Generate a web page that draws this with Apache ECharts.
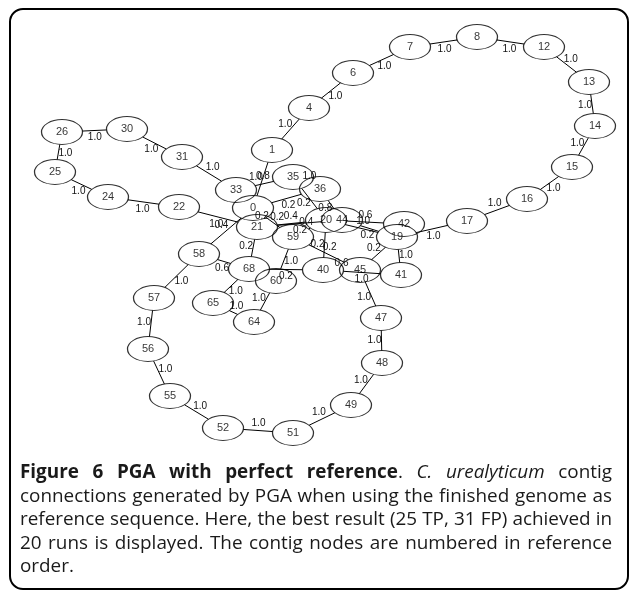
<!DOCTYPE html>
<html>
<head>
<meta charset="utf-8">
<script src="https://cdn.jsdelivr.net/npm/echarts@6/dist/echarts.min.js"></script>
<style>
  html, body { margin: 0; padding: 0; background: #fff; }
  #wrap { position: relative; width: 634px; height: 596px; overflow: hidden; }
  #frame { position: absolute; left: 9px; top: 8px; width: 620px; height: 582px; border: 2px solid #000; border-radius: 14px; box-sizing: border-box; }
  #chart { position: absolute; left: 0; top: 0; width: 634px; height: 596px; }
  #caption { position: absolute; left: 20px; top: 460px; width: 592px; font-family: "Open Sans", Lato, sans-serif; font-size: 16px; line-height: 23.5px; color: #1a1a1a; }
  #caption div { text-align: justify; text-align-last: justify; white-space: nowrap; }
  #caption div.last, #caption.measure div { text-align-last: left; }
</style>
</head>
<body>
<div id="wrap">
  <div id="frame"></div>
  <div id="chart"></div>
  <div id="caption" class="measure">
    <div><span><b>Figure 6 PGA with perfect reference</b>. <i>C. urealyticum</i> contig</span></div>
    <div><span>connections generated by PGA when using the finished genome as</span></div>
    <div><span>reference sequence. Here, the best result (25 TP, 31 FP) achieved in</span></div>
    <div><span>20 runs is displayed. The contig nodes are numbered in reference</span></div>
    <div class="last"><span>order.</span></div>
  </div>
</div>
<script>
// contig nodes (position, in pixels of the drawing)
const nodeIds = [0, 1, 4, 6, 7, 8, 12, 13, 14, 15, 16, 17, 19, 20, 21, 22, 24, 25, 26, 30,
  31, 33, 35, 36, 40, 41, 42, 44, 45, 47, 48, 49, 51, 52, 55, 56, 57, 58, 59, 60, 64, 65, 68]
const nodeX = [253, 272, 309, 353, 410, 477, 544, 589, 595, 572, 527, 467, 397, 326, 257, 179, 108, 55, 62, 127,
  182, 236, 293, 320, 323, 401, 404, 342, 360, 381, 382, 351, 293, 223, 170, 148, 154, 199, 293, 276, 254, 213, 249]
const nodeY = [208, 150, 108, 73, 47, 37, 47, 82, 126, 167, 199, 221, 237, 220, 227, 207, 197, 172, 132, 129,
  157, 190, 177, 189, 270, 275, 224, 220, 270, 318, 363, 405, 433, 428, 396, 349, 298, 254, 237, 281, 322, 303, 269]

// connections: from, to, weight
const edgeFrom = [25, 26, 30, 33, 25, 24, 22, 0, 4, 4, 6, 7, 8, 13, 13, 14, 16, 16, 19, 41,
  40, 45, 47, 48, 49, 51, 52, 55, 57, 57, 58, 65, 64, 60, 60, 68, 21, 1, 35, 36,
  0, 35, 36, 59, 21, 20, 20, 42, 44, 19, 19, 20, 45, 45, 21]
const edgeTo = [26, 30, 31, 31, 24, 22, 21, 58, 1, 6, 7, 8, 12, 12, 14, 15, 15, 17, 17, 19,
  41, 47, 48, 49, 51, 52, 55, 56, 56, 58, 68, 68, 65, 64, 59, 40, 68, 0, 33, 35,
  36, 20, 44, 0, 44, 21, 59, 20, 19, 20, 45, 40, 59, 40, 0]
const edgeWeight = ['1.0', '1.0', '1.0', '1.0', '1.0', '1.0', '1.0', '0.4', '1.0', '1.0', '1.0', '1.0', '1.0', '1.0', '1.0', '1.0', '1.0', '1.0', '1.0', '1.0',
  '1.0', '1.0', '1.0', '1.0', '1.0', '1.0', '1.0', '1.0', '1.0', '1.0', '0.6', '1.0', '1.0', '1.0', '1.0', '0.2', '0.2', '1.0', '0.8', '1.0',
  '0.2', '0.2', '0.8', '0.2', '0.2', '0.4', '0.4', '0.6', '0.2', '1.0', '0.2', '0.2', '0.2', '0.6', '0.2']

// ellipse half sizes of a node
const RX = 20.5
const RY = 12.5

// caption: pick the font size so the longest line just fills the width
const caption = document.getElementById('caption')
let widest = 0
caption.querySelectorAll('span').forEach((s) => { widest = Math.max(widest, s.getBoundingClientRect().width) })
caption.style.fontSize = (16 * 590 / widest).toFixed(2) + 'px'
caption.classList.remove('measure')

const nodeIndex = {}
nodeIds.forEach((id, i) => { nodeIndex[id] = i })

const edgeData = edgeFrom.map((f, i) => {
  const a = nodeIndex[f]
  const b = nodeIndex[edgeTo[i]]
  return [nodeX[a], nodeY[a], nodeX[b], nodeY[b]]
})

const renderEdge = (params, api) => {
  const p1 = api.coord([api.value(0), api.value(1)])
  const p2 = api.coord([api.value(2), api.value(3)])
  const dx = p2[0] - p1[0]
  const dy = p2[1] - p1[1]
  const len = Math.sqrt(dx * dx + dy * dy)
  // cut the line where it meets the ellipse outline
  const k = 1 / Math.sqrt((dx / RX) * (dx / RX) + (dy / RY) * (dy / RY))
  const children = []
  if (k < 0.5) {
    children.push({
      type: 'line',
      shape: { x1: p1[0] + k * dx, y1: p1[1] + k * dy, x2: p2[0] - k * dx, y2: p2[1] - k * dy },
      style: { stroke: '#000', lineWidth: 1 }
    })
  }
  // weight sits beside the middle of the edge
  const mx = (p1[0] + p2[0]) / 2 - 7 * dy / len
  const my = (p1[1] + p2[1]) / 2 + 7 * dx / len
  children.push({
    type: 'text',
    x: mx,
    y: my,
    style: {
      text: edgeWeight[params.dataIndex],
      fill: '#111',
      font: '10px "Liberation Sans", Arial, sans-serif',
      align: 'center',
      verticalAlign: 'middle'
    }
  })
  return { type: 'group', children }
}

const chart = echarts.init(document.getElementById('chart'))
chart.setOption({
  animation: false,
  grid: { left: 0, right: 0, top: 0, bottom: 0 },
  xAxis: { type: 'value', min: 0, max: 634, show: false },
  yAxis: { type: 'value', min: 0, max: 596, inverse: true, show: false },
  series: [
    {
      type: 'custom',
      renderItem: renderEdge,
      data: edgeData,
      silent: true,
      z: 1
    },
    {
      type: 'scatter',
      data: nodeIds.map((id, i) => [nodeX[i], nodeY[i], id]),
      symbol: 'path://M0,12.5A20.5,12.5,0,1,1,41,12.5A20.5,12.5,0,1,1,0,12.5Z',
      symbolSize: [RX * 2, RY * 2],
      itemStyle: { color: 'rgba(0,0,0,0)', borderColor: '#000', borderWidth: 1 },
      label: {
        show: true,
        position: 'inside',
        formatter: (p) => String(p.value[2]),
        color: '#000',
        fontSize: 11,
        fontFamily: '"Liberation Sans", Arial, sans-serif'
      },
      silent: true,
      z: 2
    }
  ]
})
</script>
</body>
</html>
